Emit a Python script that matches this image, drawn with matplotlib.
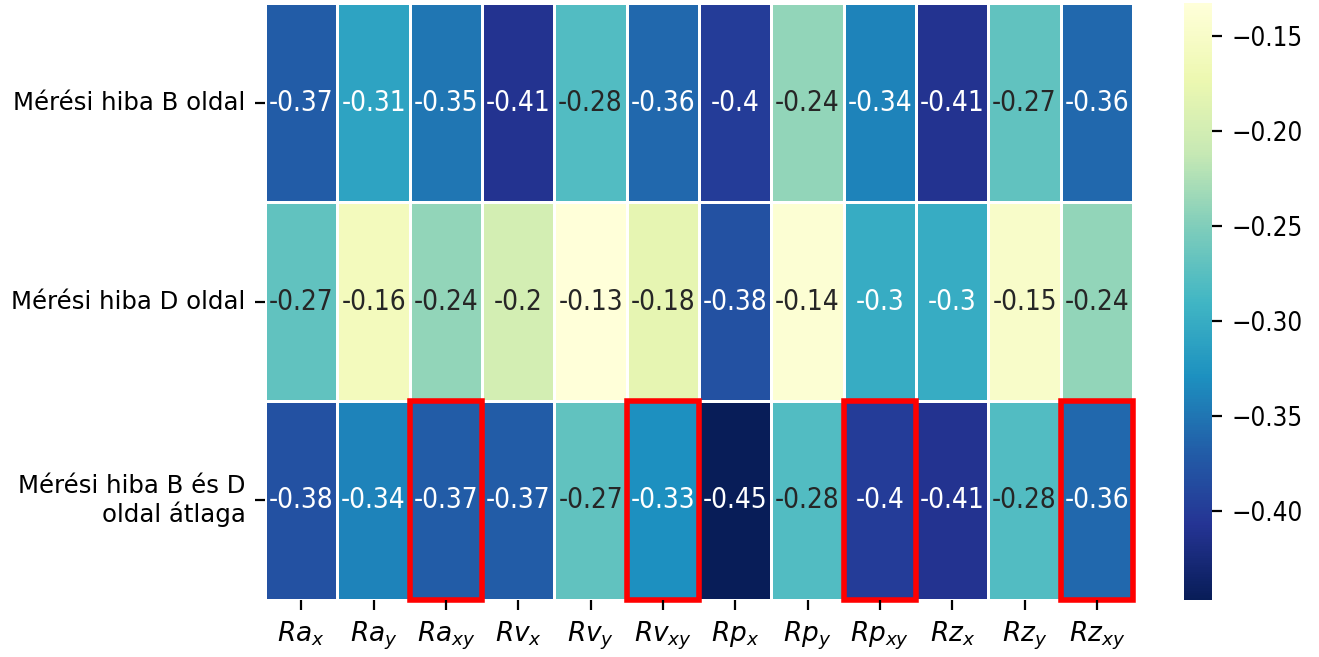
import numpy as np
import matplotlib.pyplot as plt
import seaborn as sns
from matplotlib.patches import Rectangle
from matplotlib import font_manager

# sorok es oszlopok
sorok = ['Mérési hiba B oldal', 'Mérési hiba D oldal', 'Mérési hiba B és D\noldal átlaga']
oszlopok = [r'$Ra_{x}$', r'$Ra_{y}$', r'$Ra_{xy}$', r'$Rv_{x}$', r'$Rv_{y}$', r'$Rv_{xy}$',
            r'$Rp_{x}$', r'$Rp_{y}$', r'$Rp_{xy}$', r'$Rz_{x}$', r'$Rz_{y}$', r'$Rz_{xy}$']

b_oldal = [-0.37, -0.31, -0.35, -0.41, -0.28, -0.36, -0.40, -0.24, -0.34, -0.41, -0.27, -0.36]
d_oldal = [-0.27, -0.16, -0.24, -0.20, -0.133, -0.18, -0.38, -0.14, -0.30, -0.30, -0.15, -0.24]
atlag = [-0.38, -0.34, -0.37, -0.37, -0.27, -0.33, -0.447, -0.28, -0.40, -0.41, -0.28, -0.36]

# kiemelt cellak (sor, oszlop)
kiemelt = [(2, 2), (2, 5), (2, 8), (2, 11)]

adat = np.array([b_oldal, d_oldal, atlag])

# keskenyebb betu ha van
van_cond = any(f.name == 'DejaVu Sans' and f.stretch == 'condensed'
               for f in font_manager.fontManager.ttflist)
if van_cond:
    szam_kw = {'size': 10, 'stretch': 'condensed'}
    cb_kw = {'size': 9.3, 'stretch': 'condensed'}
else:
    szam_kw = {'size': 9}
    cb_kw = {'size': 8.7}

fig = plt.figure(figsize=(6.595, 3.285), dpi=200)
ax = fig.add_axes([0.201, 0.087, 0.658, 0.908])
cax = fig.add_axes([0.898, 0.087, 0.021, 0.908])

sns.heatmap(adat, ax=ax, cbar_ax=cax, cmap='YlGnBu_r', annot=True,
            linewidths=0.5, linecolor='white',
            xticklabels=oszlopok, yticklabels=sorok, annot_kws=szam_kw)

ax.tick_params(axis='y', rotation=0)
ax.tick_params(axis='x', labelsize=9.5, rotation=0)
for t in ax.get_yticklabels():
    t.set_fontsize(8.8)
for t in cax.get_yticklabels():
    t.set_fontproperties(font_manager.FontProperties(family='DejaVu Sans', **cb_kw))

for r, c in kiemelt:
    ax.add_patch(Rectangle((c, r), 1, 1, fill=False, edgecolor='red', lw=2, clip_on=False))

fig.savefig('out.png', dpi=200)
